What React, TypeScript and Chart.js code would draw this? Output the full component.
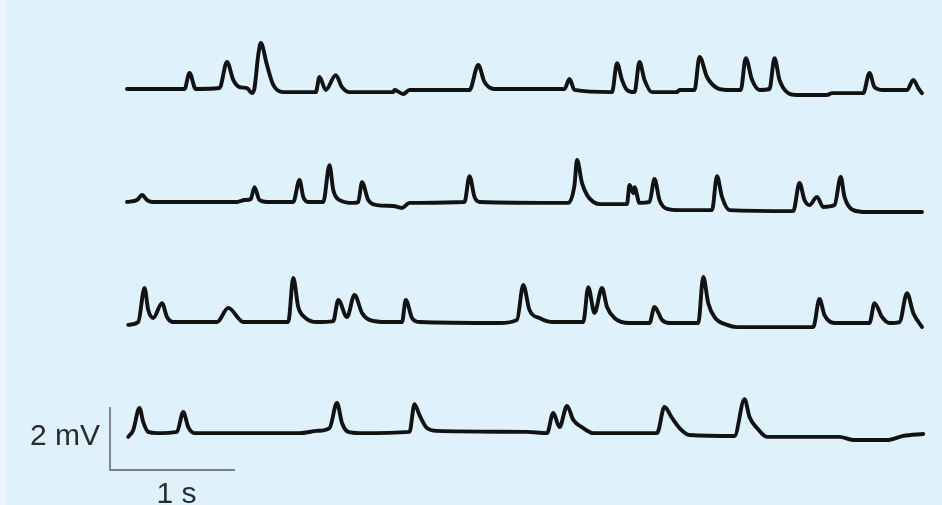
import React, { useEffect, useRef } from "react";
import { Chart, registerables } from "chart.js";

Chart.register(...registerables);

// Recorded traces: [time (s), potential relative to each trace's resting level (mV)]
const trace1: [number, number][] = [
  [0, 0], [0.46, 0], [0.5, 0.51], [0.55, 0], [0.74, 0.03], [0.8, 0.86], [0.85, 0.29],
  [0.9, 0.06], [0.96, 0.03], [1.0, -0.13], [1.02, 0.03], [1.05, 1.08], [1.07, 1.46],
  [1.12, 0.76], [1.17, 0.13], [1.25, -0.1], [1.51, -0.1], [1.54, 0.38], [1.59, -0.03],
  [1.67, 0.44], [1.72, 0.06], [1.78, -0.1], [2.13, -0.1], [2.14, -0.03], [2.21, -0.16],
  [2.26, -0.03], [2.74, -0.03], [2.81, 0.76], [2.86, 0.22], [2.94, 0], [3.5, 0],
  [3.54, 0.32], [3.58, -0.03], [3.88, -0.1], [3.92, 0.82], [3.96, 0.29], [4.0, -0.03],
  [4.06, -0.1], [4.1, 0.86], [4.14, 0.29], [4.2, -0.1], [4.4, -0.1], [4.42, -0.03],
  [4.54, -0.03], [4.58, 1.02], [4.64, 0.38], [4.72, 0.03], [4.8, -0.03], [4.91, -0.03],
  [4.95, 0.98], [5.0, 0.29], [5.06, -0.03], [5.14, 0], [5.18, 0.98], [5.22, 0.29],
  [5.29, -0.13], [5.36, -0.19], [5.6, -0.19], [5.64, -0.13], [5.89, -0.13], [5.94, 0.51],
  [5.98, 0.06], [6.05, -0.03], [6.24, -0.03], [6.29, 0.29], [6.33, 0.03], [6.36, -0.13],
];

const trace2: [number, number][] = [
  [0, -0.03], [0.08, 0.03], [0.12, 0.19], [0.16, 0.03], [0.21, -0.03], [0.88, -0.03],
  [0.94, 0.03], [0.99, 0.06], [1.02, 0.44], [1.06, 0.03], [1.12, -0.03], [1.33, -0.03],
  [1.38, 0.67], [1.41, 0.13], [1.45, -0.03], [1.57, -0.03], [1.62, 1.14], [1.65, 0.35],
  [1.7, 0.03], [1.81, -0.06], [1.85, -0.03], [1.88, 0.6], [1.93, 0.03], [2.0, -0.13],
  [2.13, -0.16], [2.2, -0.22], [2.26, -0.06], [2.7, -0.03], [2.74, 0.79], [2.78, 0.13],
  [2.82, -0.03], [3.53, -0.06], [3.58, 0.51], [3.6, 1.3], [3.64, 0.57], [3.68, 0.19],
  [3.73, -0.03], [3.78, -0.1], [4.0, -0.1], [4.02, 0.51], [4.05, 0.25], [4.06, 0.44],
  [4.1, -0.06], [4.18, -0.03], [4.22, 0.7], [4.26, 0.03], [4.32, -0.25], [4.42, -0.29],
  [4.68, -0.29], [4.72, 0.79], [4.76, 0.13], [4.82, -0.29], [5.33, -0.32], [5.38, 0.57],
  [5.42, 0.03], [5.46, -0.13], [5.52, 0.13], [5.57, -0.19], [5.66, -0.13], [5.71, 0.76],
  [5.74, 0.13], [5.81, -0.29], [5.92, -0.35], [6.36, -0.35],
];

const trace3: [number, number][] = [
  [0.01, -0.06], [0.09, 0.03], [0.14, 1.11], [0.17, 0.41], [0.21, 0.16], [0.28, 0.63],
  [0.32, 0.19], [0.37, 0.03], [0.72, 0.03], [0.81, 0.48], [0.93, 0.03], [1.29, 0.03],
  [1.33, 1.43], [1.37, 0.51], [1.42, 0.19], [1.52, 0.03], [1.65, 0.06], [1.69, 0.73],
  [1.76, 0.19], [1.82, 0.89], [1.88, 0.32], [1.94, 0.1], [2.08, 0.03], [2.2, 0.03],
  [2.23, 0.73], [2.28, 0.16], [2.34, 0.03], [2.98, 0], [3.12, 0.1], [3.17, 1.21],
  [3.22, 0.41], [3.3, 0.16], [3.41, 0.03], [3.65, 0.03], [3.69, 1.14], [3.74, 0.32],
  [3.8, 1.11], [3.84, 0.51], [3.9, 0.16], [4.02, 0], [4.18, 0], [4.22, 0.51], [4.28, 0.1],
  [4.34, 0], [4.57, 0], [4.61, 1.46], [4.65, 0.63], [4.7, 0.19], [4.8, -0.06], [4.88, -0.13],
  [5.49, -0.13], [5.54, 0.76], [5.58, 0.25], [5.66, 0], [5.94, 0], [5.98, 0.63], [6.04, 0.19],
  [6.1, 0], [6.18, 0.03], [6.24, 0.95], [6.29, 0.32], [6.36, -0.13],
];

const trace4: [number, number][] = [
  [0.01, -0.06], [0.05, 0.16], [0.1, 0.86], [0.13, 0.41], [0.17, 0.1], [0.24, 0.06],
  [0.4, 0.1], [0.45, 0.73], [0.49, 0.25], [0.54, 0.06], [1.38, 0.06], [1.52, 0.13],
  [1.62, 0.22], [1.68, 1.02], [1.72, 0.38], [1.77, 0.1], [1.86, 0.06], [2.26, 0.1],
  [2.3, 0.98], [2.34, 0.63], [2.4, 0.22], [2.48, 0.13], [3.2, 0.1], [3.36, 0.06],
  [3.41, 0.7], [3.46, 0.25], [3.52, 0.92], [3.57, 0.48], [3.65, 0.22], [3.73, 0.06],
  [4.24, 0.06], [4.3, 0.89], [4.36, 0.54], [4.42, 0.22], [4.5, 0], [4.86, -0.03],
  [4.94, 1.14], [4.98, 0.57], [5.04, 0.22], [5.12, -0.06], [5.54, -0.06], [5.7, -0.06],
  [5.81, -0.16], [6.08, -0.16], [6.21, -0.03], [6.37, 0.03],
];

const traces = [trace1, trace2, trace3, trace4];

// Scale bar
const scaleBarSeconds = 1;
const scaleBarMillivolts = 2;
const scaleBarTimeLabel = "1 s";
const scaleBarVoltLabel = "2 mV";

// Layout (plot geometry, not data)
const W = 942;
const H = 505;
const PX_PER_S = 125;
const PX_PER_MV = 31.5;
const T_AT_LEFT = -127 / PX_PER_S;
const TRACE_BASELINES_MV = [(H - 89) / PX_PER_MV, (H - 201) / PX_PER_MV, (H - 323) / PX_PER_MV, (H - 435) / PX_PER_MV];
const BAR_T0 = (110 - 127) / PX_PER_S;
const BAR_V0 = (H - 470) / PX_PER_MV;

export default function App() {
  const ref = useRef<HTMLCanvasElement | null>(null);

  useEffect(() => {
    if (!ref.current) return;
    const datasets: any[] = traces.map((tr, i) => ({
      data: tr.map(([t, v]) => ({ x: t, y: v + TRACE_BASELINES_MV[i] })),
      borderColor: "#121212",
      borderWidth: 3.9,
      pointRadius: 0,
      cubicInterpolationMode: "monotone",
      borderJoinStyle: "round",
      borderCapStyle: "round",
      fill: false,
    }));
    datasets.push({
      data: [
        { x: BAR_T0, y: BAR_V0 + scaleBarMillivolts },
        { x: BAR_T0, y: BAR_V0 },
        { x: BAR_T0 + scaleBarSeconds, y: BAR_V0 },
      ],
      borderColor: "#5a5a5a",
      borderWidth: 1.4,
      pointRadius: 0,
      tension: 0,
      fill: false,
    });

    const labelPlugin = {
      id: "scaleLabels",
      afterDatasetsDraw(chart: any) {
        const { ctx, scales } = chart;
        const xs = scales.x;
        const ys = scales.y;
        const bx0 = xs.getPixelForValue(BAR_T0);
        const bx1 = xs.getPixelForValue(BAR_T0 + scaleBarSeconds);
        const by0 = ys.getPixelForValue(BAR_V0);
        const by1 = ys.getPixelForValue(BAR_V0 + scaleBarMillivolts);
        ctx.save();
        ctx.fillStyle = "#2b2b2b";
        ctx.font = "30px 'Liberation Sans', Arial, sans-serif";
        ctx.textAlign = "right";
        ctx.textBaseline = "alphabetic";
        ctx.fillText(scaleBarVoltLabel, bx0 - 10, (by0 + by1) / 2 + 6);
        ctx.textAlign = "center";
        ctx.fillText(scaleBarTimeLabel, (bx0 + bx1) / 2 + 4, by0 + 33);
        ctx.restore();
      },
    };

    const chart = new Chart(ref.current, {
      type: "line",
      data: { datasets },
      options: {
        animation: false,
        responsive: false,
        devicePixelRatio: 1,
        events: [],
        layout: { padding: 0 },
        plugins: { legend: { display: false }, tooltip: { enabled: false }, title: { display: false } },
        scales: {
          x: { type: "linear", display: false, min: T_AT_LEFT, max: T_AT_LEFT + W / PX_PER_S },
          y: { type: "linear", display: false, min: 0, max: H / PX_PER_MV },
        },
      },
      plugins: [labelPlugin],
    });
    return () => chart.destroy();
  }, []);

  return (
    <div
      style={{
        position: "fixed",
        left: 0,
        top: 0,
        width: W,
        height: H,
        background: "linear-gradient(to right, #ecf7fd 0px, #ecf7fd 5px, #dff1fb 8px, #dff1fb 100%)",
      }}
    >
      <canvas ref={ref} width={W} height={H} style={{ display: "block", width: W, height: H }} />
    </div>
  );
}
